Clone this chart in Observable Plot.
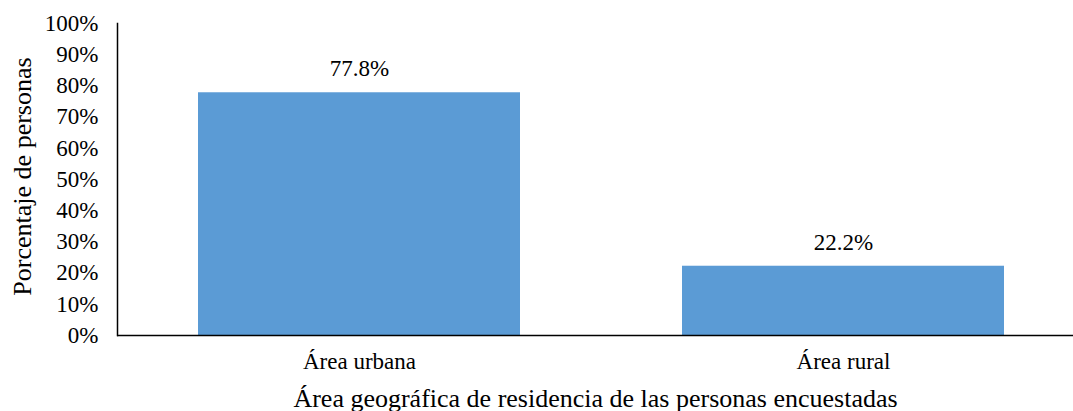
<!DOCTYPE html>
<html>
<head>
<meta charset="utf-8">
<script src="https://cdn.jsdelivr.net/npm/d3@7"></script>
<script src="https://cdn.jsdelivr.net/npm/@observablehq/plot@0.6"></script>
<style>
  html, body { margin: 0; padding: 0; background: #fff; overflow: hidden; }
</style>
</head>
<body>
<div id="chart"></div>
<script>
const categories = ["Área urbana", "Área rural"];
const values = [77.8, 22.2];
const valueLabels = ["77.8%", "22.2%"];
const yTicks = [0, 10, 20, 30, 40, 50, 60, 70, 80, 90, 100];
const xTitle = "Área geográfica de residencia de las personas encuestadas";
const yTitle = "Porcentaje de personas";

const data = categories.map((c, i) => ({category: c, value: values[i], label: valueLabels[i]}));

const chart = Plot.plot({
  width: 1073,
  height: 411,
  marginLeft: 117,
  marginRight: 0,
  marginTop: 23,
  marginBottom: 76,
  style: {fontFamily: "'Liberation Serif', 'Times New Roman', serif", fontSize: "23px", color: "#000", background: "#fff"},
  x: {domain: categories, range: [117, 1085], paddingInner: 0.335, paddingOuter: 0.1675, label: null},
  y: {domain: [0, 100], label: null},
  marks: [
    Plot.barY(data, {x: "category", y: "value", fill: "#5B9BD5"}),
    Plot.ruleY([0], {stroke: "#000", strokeWidth: 1.5}),
    Plot.frame({anchor: "left", stroke: "#000", strokeWidth: 1.5}),
    Plot.axisY({ticks: yTicks, tickSize: 0, tickPadding: 19, tickFormat: d => d + "%", label: null, fontSize: 23, fontFamily: "'Liberation Serif', serif"}),
    Plot.axisX({tickSize: 0, tickPadding: 17, label: null, fontSize: 23, fontFamily: "'Liberation Serif', serif"}),
    Plot.text(data, {x: "category", y: "value", text: "label", dy: -24, fontSize: 23, fill: "#000", fontFamily: "'Liberation Serif', serif"}),
    Plot.text([yTitle], {frameAnchor: "left", textAnchor: "middle", rotate: -90, dx: -95, dy: -3, fontSize: 26, fill: "#000", fontFamily: "'Liberation Serif', serif"}),
    Plot.text([xTitle], {frameAnchor: "bottom", textAnchor: "middle", dy: 71, fontSize: 26, fill: "#000", fontFamily: "'Liberation Serif', serif"})
  ]
});
document.getElementById("chart").appendChild(chart);
</script>
</body>
</html>
